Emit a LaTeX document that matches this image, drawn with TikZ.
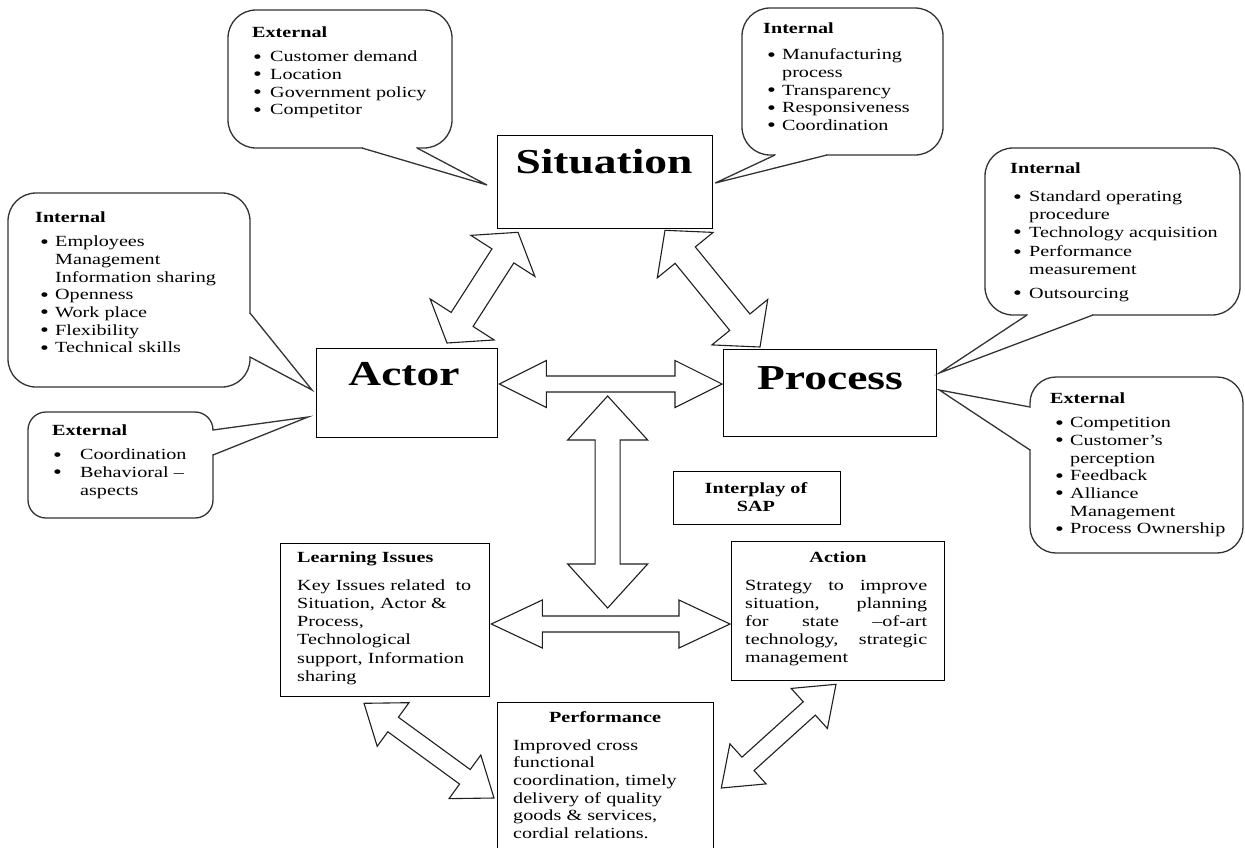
\documentclass[tikz,border=0pt]{standalone}
\usepackage{fontspec}
\setmainfont{Liberation Serif}[FakeStretch=1.3]
\usetikzlibrary{calc}
\newcommand{\bi}[2]{\makebox[#2pt][l]{\hspace*{#1pt}\raisebox{-1.4pt}{\scalebox{1.25}{\textbullet}}}}
\newcommand{\dblarrow}[5]{%
  \coordinate (ha) at ($(#1)!#5!(#2)$);
  \coordinate (hb) at ($(#2)!#5!(#1)$);
  \draw[blockarr] (#1) -- ($(ha)!#4!90:(#2)$) -- ($(ha)!#3!90:(#2)$)
    -- ($(hb)!#3!-90:(#1)$) -- ($(hb)!#4!-90:(#1)$) -- (#2)
    -- ($(hb)!#4!90:(#1)$) -- ($(hb)!#3!90:(#1)$)
    -- ($(ha)!#3!-90:(#2)$) -- ($(ha)!#4!-90:(#2)$) -- cycle;}
\tikzset{
  box/.style={draw=black, line width=1.3pt, fill=white, inner sep=0pt, anchor=north west},
  blockarr/.style={draw=black!88, line width=1.1pt, fill=white, line join=miter},
  co/.style={draw=black!80, line width=1.3pt},
  cw/.style={draw=black!80, line width=1.3pt, line join=miter},
  txt/.style={inner sep=0pt, anchor=base west, align=left, font=\fontsize{15.5}{17.7}\selectfont},
  ctr/.style={inner sep=0pt, anchor=base, align=center, font=\fontsize{15.5}{18.5}\selectfont\bfseries},
  title/.style={inner sep=0pt, anchor=base, font=\fontsize{35}{40}\selectfont\bfseries},
}
\begin{document}
\begin{tikzpicture}[x=1pt,y=-1pt]
\fill[white] (0,0) rectangle (1245,847);
\useasboundingbox (0,0) rectangle (1245,847);

% ---------- main boxes
\node[box, minimum width=215pt, minimum height=93pt] (sit) at (497,135) {};
\node[box, minimum width=181pt, minimum height=89pt] (act) at (316,348) {};
\node[box, minimum width=213pt, minimum height=87pt] (proc) at (723,349) {};
\node[box, minimum width=167pt, minimum height=53pt] (intp) at (673,471) {};
\node[box, minimum width=209pt, minimum height=153pt] (learn) at (280,543) {};
\node[box, minimum width=213pt, minimum height=139pt] (actn) at (731,541) {};
\node[box, minimum width=216pt, minimum height=170pt] (perf) at (497,702) {};

\node[title] (sitt) at (604,173) {Situation};
\node[title] (actt) at (404,385) {Actor};
\node[title] (proct) at (830,389) {Process};

\node[ctr, text width=160pt] (intpt) at (756,493) {Interplay of\\SAP};

\node[txt, text width=195pt, font=\fontsize{15.5}{18.3}\selectfont] (learnt) at (297,562)
 {\textbf{Learning Issues}\\[9.7pt]
  Key Issues related\ \ to\\
  Situation, Actor \&\\
  Process,\\
  Technological\\
  support, Information\\
  sharing};

\node[ctr] (actnh) at (838,562) {Action};
\node[txt, text width=182pt, align=justify, font=\fontsize{15.5}{18.2}\selectfont] (actnt) at (745,590)
 {Strategy to improve\linebreak situation, planning\linebreak for state \textendash of-art\linebreak technology, strategic\linebreak management};

\node[ctr] (perfh) at (605,722) {Performance};
\node[txt, text width=195pt] (perft) at (513,750)
 {Improved cross\\
  functional\\
  coordination, timely\\
  delivery of quality\\
  goods \& services,\\
  cordial relations.};

% ---------- block arrows
\coordinate (sa1) at ($(sit.south west)+(21,3)$);
\coordinate (sa2) at ($(act.north west)+(131,-5)$);
\coordinate (sp1) at ($(sit.south west)+(168,1)$);
\coordinate (sp2) at ($(proc.north west)+(37,-2)$);
\coordinate (ap1) at ($(act.north east)+(1,36)$);
\coordinate (ap2) at ($(proc.north west)+(-1,35)$);
\coordinate (v1) at ($($(act.north east)!0.5!(proc.north west)$)+(-3,47.5)$);
\coordinate (v2) at ($($(learn.north east)!0.5!(actn.north west)$)+(-3,66)$);
\coordinate (la1) at ($(learn.north east)+(1,81)$);
\coordinate (la2) at ($(actn.north west)+(-1,83)$);
\coordinate (lp1) at ($(learn.south west)+(84,6)$);
\coordinate (lp2) at ($(perf.north west)+(-3,96)$);
\coordinate (pa1) at ($(actn.south west)+(105,3)$);
\coordinate (pa2) at ($(perf.north east)+(7,86)$);

\dblarrow{sa1}{sa2}{13pt}{38pt}{28pt}
\dblarrow{sp1}{sp2}{13pt}{36pt}{32pt}
\dblarrow{ap1}{ap2}{8pt}{23.5pt}{47pt}
\dblarrow{v1}{v2}{12.5pt}{40pt}{44pt}
\dblarrow{la1}{la2}{8pt}{24pt}{51pt}
\dblarrow{lp1}{lp2}{9pt}{27pt}{36pt}
\dblarrow{pa1}{pa2}{9pt}{27pt}{36pt}

% ---------- callouts
\coordinate (c1tip) at ($(sit.north west)+(-10,50)$);
\coordinate (c2tip) at ($(sit.north east)+(2,48)$);
\coordinate (c3tip) at ($(act.north west)+(-4,42)$);
\coordinate (c4tip) at ($(act.north west)+(-8,69)$);
\coordinate (c5tip) at ($(proc.north east)+(2,24)$);
\coordinate (c6tip) at ($(proc.north east)+(2,41)$);

% 1 top-left External
\draw[co, rounded corners=28pt] (228,10) rectangle (452,148);
\fill[white] (362.8,144) rectangle (416.2,150.5);
\fill[white] (362,148) -- (c1tip) -- (417,148) -- cycle;
\draw[cw] (362,148) -- (c1tip) -- (417,148);
\node[txt, text width=200pt] (c1t) at (252,37)
 {\textbf{External}\\[7pt]
  \bi{1}{18}Customer demand\\
  \bi{1}{18}Location\\
  \bi{1}{18}Government policy\\
  \bi{1}{18}Competitor};

% 2 top-right Internal
\draw[co, rounded corners=28pt] (742,8) rectangle (943,155);
\fill[white] (775.8,151) rectangle (826.2,157.5);
\fill[white] (775,155) -- (c2tip) -- (827,155) -- cycle;
\draw[cw] (775,155) -- (c2tip) -- (827,155);
\node[txt, text width=180pt] (c2t) at (763,33)
 {\textbf{Internal}\\[9pt]
  \bi{4}{19}Manufacturing\\
  \hspace*{19pt}process\\
  \bi{4}{19}Transparency\\
  \bi{4}{19}Responsiveness\\
  \bi{4}{19}Coordination};

% 3 left Internal
\draw[co, rounded corners=28pt] (8,193) rectangle (250,387);
\fill[white] (246,313.8) rectangle (252.5,356.2);
\fill[white] (250,313) -- (c3tip) -- (250,357) -- cycle;
\draw[cw] (250,313) -- (c3tip) -- (250,357);
\node[txt, text width=210pt] (c3t) at (35,222)
 {\textbf{Internal}\\[7pt]
  \bi{5}{20}Employees\\
  \hspace*{20pt}Management\\
  \hspace*{20pt}Information sharing\\
  \bi{5}{20}Openness\\
  \bi{5}{20}Work place\\
  \bi{5}{20}Flexibility\\
  \bi{5}{20}Technical skills};

% 4 left External
\draw[co, rounded corners=18pt] (28,412) rectangle (213,518);
\fill[white] (209,430.8) rectangle (215.5,454.2);
\fill[white] (213,430) -- (c4tip) -- (213,455) -- cycle;
\draw[cw] (213,430) -- (c4tip) -- (213,455);
\node[txt, text width=160pt] (c4t) at (52,435)
 {\textbf{External}\\[7pt]
  \bi{1}{28}Coordination\\
  \bi{1}{28}Behavioral \textendash\\
  \hspace*{28pt}aspects};

% 5 right Internal
\draw[co, rounded corners=28pt] (985,148) rectangle (1240,315);
\fill[white] (1027.8,311) rectangle (1092.2,317.5);
\fill[white] (1027,315) -- (c5tip) -- (1093,315) -- cycle;
\draw[cw] (1027,315) -- (c5tip) -- (1093,315);
\node[txt, text width=225pt] (c5t) at (1010,173)
 {\textbf{Internal}\\[11pt]
  \bi{3}{19}Standard operating\\
  \hspace*{19pt}procedure\\
  \bi{3}{19}Technology acquisition\\[2pt]
  \bi{3}{19}Performance\\
  \hspace*{19pt}measurement\\[6pt]
  \bi{3}{19}Outsourcing};

% 6 right External
\draw[co, rounded corners=26pt] (1030,377) rectangle (1243,553);
\fill[white] (1027.5,407.8) rectangle (1034,449.2);
\fill[white] (1030,407) -- (c6tip) -- (1030,450) -- cycle;
\draw[cw] (1030,407) -- (c6tip) -- (1030,450);
\node[txt, text width=190pt] (c6t) at (1050,403)
 {\textbf{External}\\[7pt]
  \bi{5}{20}Competition\\
  \bi{5}{20}Customer’s\\
  \hspace*{20pt}perception\\
  \bi{5}{20}Feedback\\
  \bi{5}{20}Alliance\\
  \hspace*{20pt}Management\\
  \bi{5}{20}Process Ownership};
\end{tikzpicture}
\end{document}
